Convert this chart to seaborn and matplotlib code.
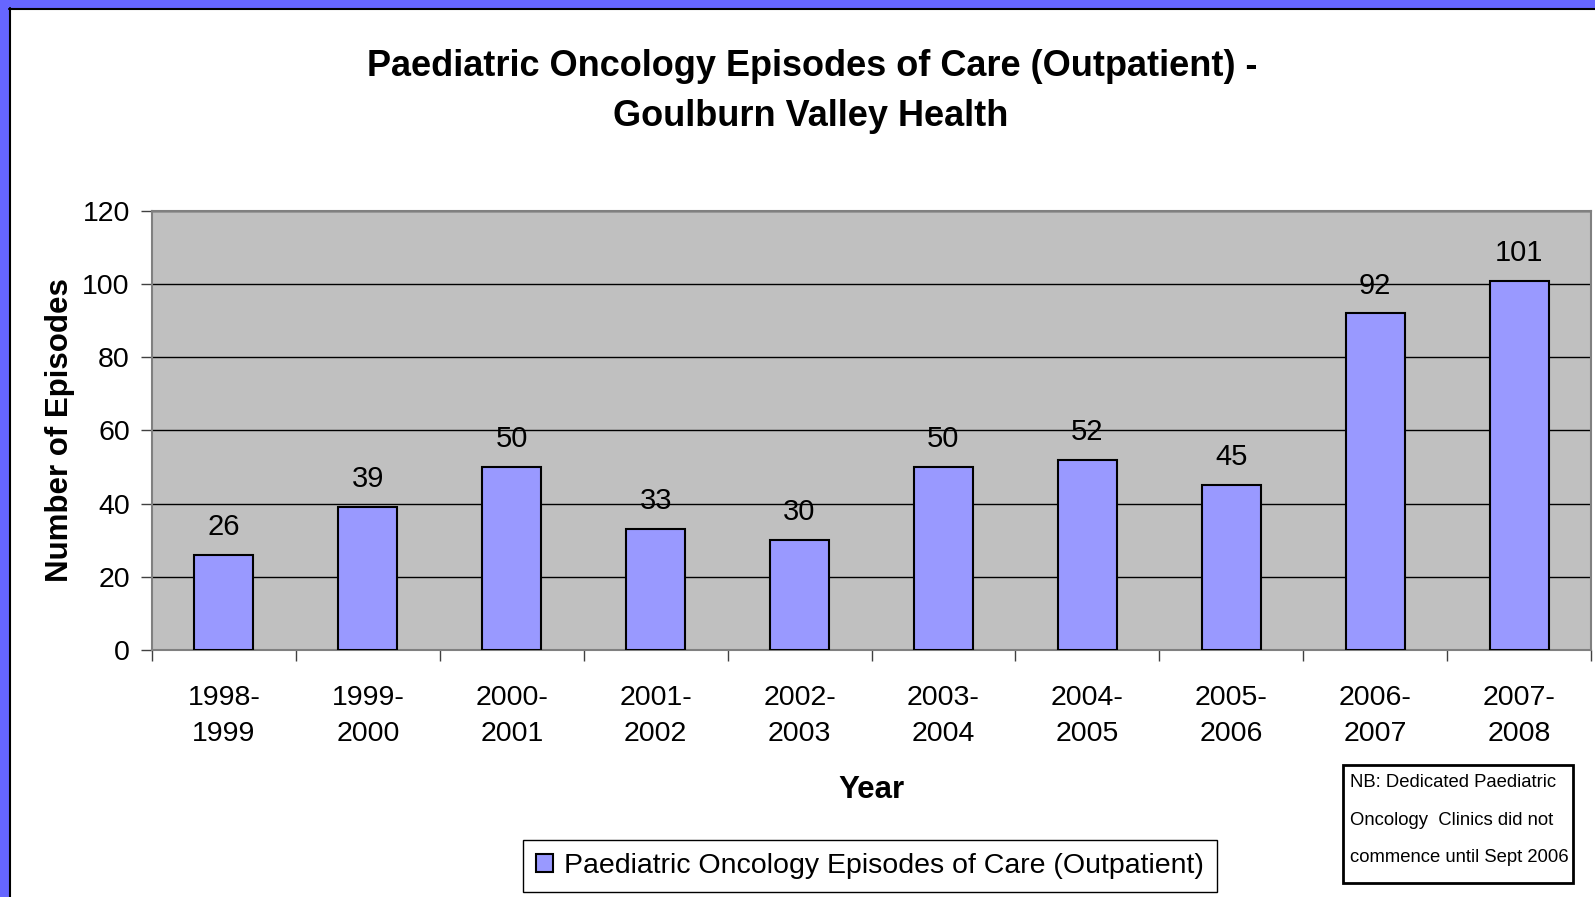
import matplotlib
matplotlib.use("Agg")
import matplotlib.pyplot as plt
import seaborn as sns
import pandas as pd
from matplotlib.patches import Patch, Rectangle
from matplotlib.lines import Line2D

# Data
years = ["1998-\n1999", "1999-\n2000", "2000-\n2001", "2001-\n2002", "2002-\n2003",
         "2003-\n2004", "2004-\n2005", "2005-\n2006", "2006-\n2007", "2007-\n2008"]
episodes = [26, 39, 50, 33, 30, 50, 52, 45, 92, 101]
series_name = "Paediatric Oncology Episodes of Care (Outpatient)"
y_ticks = [0, 20, 40, 60, 80, 100, 120]

df = pd.DataFrame({"year": years, "episodes": episodes})

sns.set_style("white")
plt.rcParams["font.family"] = ["Liberation Sans", "DejaVu Sans"]
plt.rcParams["text.color"] = "black"
plt.rcParams["axes.labelcolor"] = "black"
plt.rcParams["xtick.color"] = "black"
plt.rcParams["ytick.color"] = "black"

W, H = 1595, 897
fig = plt.figure(figsize=(W / 100, H / 100), dpi=100)
ax = fig.add_axes([152 / W, 1 - 650 / H, 1439 / W, 439 / H])

bar_color = "#9999FF"
sns.barplot(data=df, x="year", y="episodes", color=bar_color, width=0.41,
            edgecolor="black", linewidth=1.5, saturation=1, ax=ax, zorder=3)

ax.set_facecolor("#C0C0C0")
ax.set_xlim(-0.5, len(years) - 0.5)
ax.set_ylim(0, 120)
ax.set_yticks(y_ticks)
ax.yaxis.grid(True, color="black", linewidth=1)
ax.set_axisbelow(True)
for s in ax.spines.values():
    s.set_color("#808080")
    s.set_linewidth(1.5)

# labels on bars
for c in ax.containers:
    ax.bar_label(c, labels=[str(v) for v in episodes], padding=10, fontsize=21)

# x ticks: labels at centres, tick marks at boundaries
ax.tick_params(axis="x", which="major", length=0, pad=25, labelsize=20.5)
ax.set_xticks(range(len(years)))
ax.set_xticklabels(years, linespacing=1.5)
ax.set_xticks([i - 0.5 for i in range(len(years) + 1)], minor=True)
ax.tick_params(axis="x", which="minor", length=8, width=1, color="#404040",
               direction="out", bottom=True)
ax.tick_params(axis="y", length=8, width=1, color="#404040", direction="out",
               left=True, pad=8, labelsize=20.5)

ax.set_xlabel("Year", fontsize=22.5, fontweight="bold")
ax.xaxis.set_label_coords(0.5, -0.285)
ax.set_ylabel("Number of Episodes", fontsize=22.5, fontweight="bold")
ax.yaxis.set_label_coords(-0.0535, 0.5)

# title
fig.text(812 / W, 1 - 67 / H, "Paediatric Oncology Episodes of Care (Outpatient) -",
         ha="center", va="center", fontsize=26, fontweight="bold")
fig.text(811 / W, 1 - 117 / H, "Goulburn Valley Health",
         ha="center", va="center", fontsize=26, fontweight="bold")

# legend
handle = Patch(facecolor=bar_color, edgecolor="black", linewidth=1.5)
fig.legend([handle], [series_name], loc="center", bbox_to_anchor=(870 / W, 1 - 866 / H),
           fontsize=20.5, frameon=True, fancybox=False, edgecolor="black",
           handlelength=0.6, handleheight=0.6, handletextpad=0.4,
           borderpad=0.45, borderaxespad=0, framealpha=1)

# note box
fig.add_artist(Rectangle((1343 / W, 1 - 883 / H), 230 / W, 118 / H,
                         transform=fig.transFigure, facecolor="white",
                         edgecolor="black", linewidth=2))
fig.text(1350 / W, 1 - 820 / H,
         "NB: Dedicated Paediatric\nOncology  Clinics did not\ncommence until Sept 2006",
         ha="left", va="center", fontsize=13.3, linespacing=2.58,
         family=["Liberation Sans Narrow", "Liberation Sans", "DejaVu Sans"])

# blue frame at top and left
blue = "#6666FF"
fig.add_artist(Rectangle((0, 1 - 8 / H), 1, 8 / H, transform=fig.transFigure,
                         facecolor=blue, edgecolor="none"))
fig.add_artist(Rectangle((0, 0), 9 / W, 1, transform=fig.transFigure,
                         facecolor=blue, edgecolor="none"))
fig.add_artist(Line2D([9 / W, 1], [1 - 9 / H, 1 - 9 / H], transform=fig.transFigure,
                      color="black", linewidth=1.5))
fig.add_artist(Line2D([10 / W, 10 / W], [0, 1 - 8 / H], transform=fig.transFigure,
                      color="black", linewidth=1.5))

fig.savefig("out.png", dpi=100, facecolor="white")
